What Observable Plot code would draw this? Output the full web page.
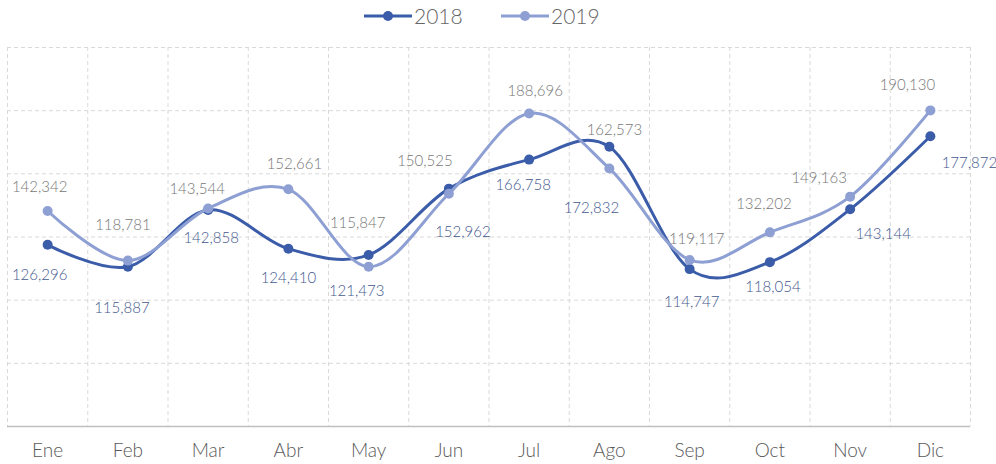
<!DOCTYPE html>
<html>
<head>
<meta charset="utf-8">
<script src="https://cdn.jsdelivr.net/npm/d3@7"></script>
<script src="https://cdn.jsdelivr.net/npm/@observablehq/plot@0.6"></script>
<style>
  html, body { margin: 0; padding: 0; background: #fff; }
  body { width: 996px; height: 464px; overflow: hidden; font-family: Lato, "Open Sans", sans-serif; }
  #legend { position: relative; height: 32px; }
  .item { position: absolute; top: 3px; display: flex; align-items: center; font-size: 21px; color: #666666; font-weight: 300; }
  .item svg { margin-right: 2px; }
</style>
</head>
<body>
<div id="legend"></div>
<div id="chart"></div>
<script>
const months = ["Ene","Feb","Mar","Abr","May","Jun","Jul","Ago","Sep","Oct","Nov","Dic"];
const series = ["2018", "2019"];
const values2018 = [126296, 115887, 142858, 124410, 121473, 152962, 166758, 172832, 114747, 118054, 143144, 177872];
const values2019 = [142342, 118781, 143544, 152661, 115847, 150525, 188696, 162573, 119117, 132202, 149163, 190130];
const yTicks = [40000, 70000, 100000, 130000, 160000, 190000, 220000];

// label placement offsets (pixels), layout only
const labelDx2018 = [-8, -6, 3, 0, -12, 14, -6, -18, 2, 3, 33, 39];
const labelDy2018 = [30, 41, 28, 29, 36, 44, 26, 61, 33, 25, 25, 27];
const labelDx2019 = [-8, -5, -11, 6, -11, -24, 6, 5, 7, -6, -31, -23];
const labelDy2019 = [-24, -35, -19, -25, -44, -33, -22, -38, -21, -28, -18, -25];

const colors = {"2018": "#3b5ca9", "2019": "#8ea0d3"};
const labelColors = {"2018": "#44598f", "2019": "#777777"};

const rows = [];
months.forEach((m, i) => {
  rows.push({i, month: m, series: "2018", value: values2018[i], dx: labelDx2018[i], dy: labelDy2018[i]});
  rows.push({i, month: m, series: "2019", value: values2019[i], dx: labelDx2019[i], dy: labelDy2019[i]});
});
const fmt = d3.format(",");

// legend
const legend = document.getElementById("legend");
const legendLeft = {"2018": 364, "2019": 501};
series.forEach(s => {
  const div = document.createElement("div");
  div.className = "item";
  div.style.left = legendLeft[s] + "px";
  div.innerHTML = `<svg width="48" height="12"><line x1="0" x2="48" y1="6" y2="6" stroke="${colors[s]}" stroke-width="3"/><circle cx="24" cy="6" r="5" fill="${colors[s]}"/></svg><span>${s}</span>`;
  legend.appendChild(div);
});

const gridStyle = {stroke: "#d9d9d9", strokeDasharray: "4,3", strokeWidth: 1};
const marks = [
  Plot.ruleX(d3.range(months.length + 1), {x: d => d - 0.5, ...gridStyle}),
  Plot.ruleY(yTicks.slice(1), gridStyle),
  Plot.ruleY([yTicks[0]], {stroke: "#bfbfbf", strokeWidth: 1.5}),
  Plot.axisX({ticks: d3.range(months.length), tickFormat: i => months[i], tickSize: 0, tickPadding: 17, fontSize: 19, fill: "#595959", fontWeight: 300, label: null}),
];
series.forEach(s => {
  const d = rows.filter(r => r.series === s);
  marks.push(Plot.line(d, {x: "i", y: "value", stroke: colors[s], strokeWidth: 3, curve: "cardinal", tension: 0}));
  marks.push(Plot.dot(d, {x: "i", y: "value", fill: colors[s], r: 5}));
});
rows.forEach(r => {
  marks.push(Plot.text([r], {x: "i", y: "value", text: d => fmt(d.value), dx: r.dx, dy: r.dy, fontSize: 15, fontWeight: 300, fill: labelColors[r.series]}));
});

const chart = Plot.plot({
  width: 996,
  height: 432,
  marginTop: 15,
  marginBottom: 38,
  marginLeft: 7,
  marginRight: 26,
  style: {fontFamily: "Lato, 'Open Sans', sans-serif", fontWeight: 300, background: "#fff"},
  x: {type: "linear", domain: [-0.5, months.length - 0.5], axis: null},
  y: {domain: [yTicks[0], yTicks[yTicks.length - 1]], axis: null},
  marks
});
document.getElementById("chart").appendChild(chart);
</script>
</body>
</html>
